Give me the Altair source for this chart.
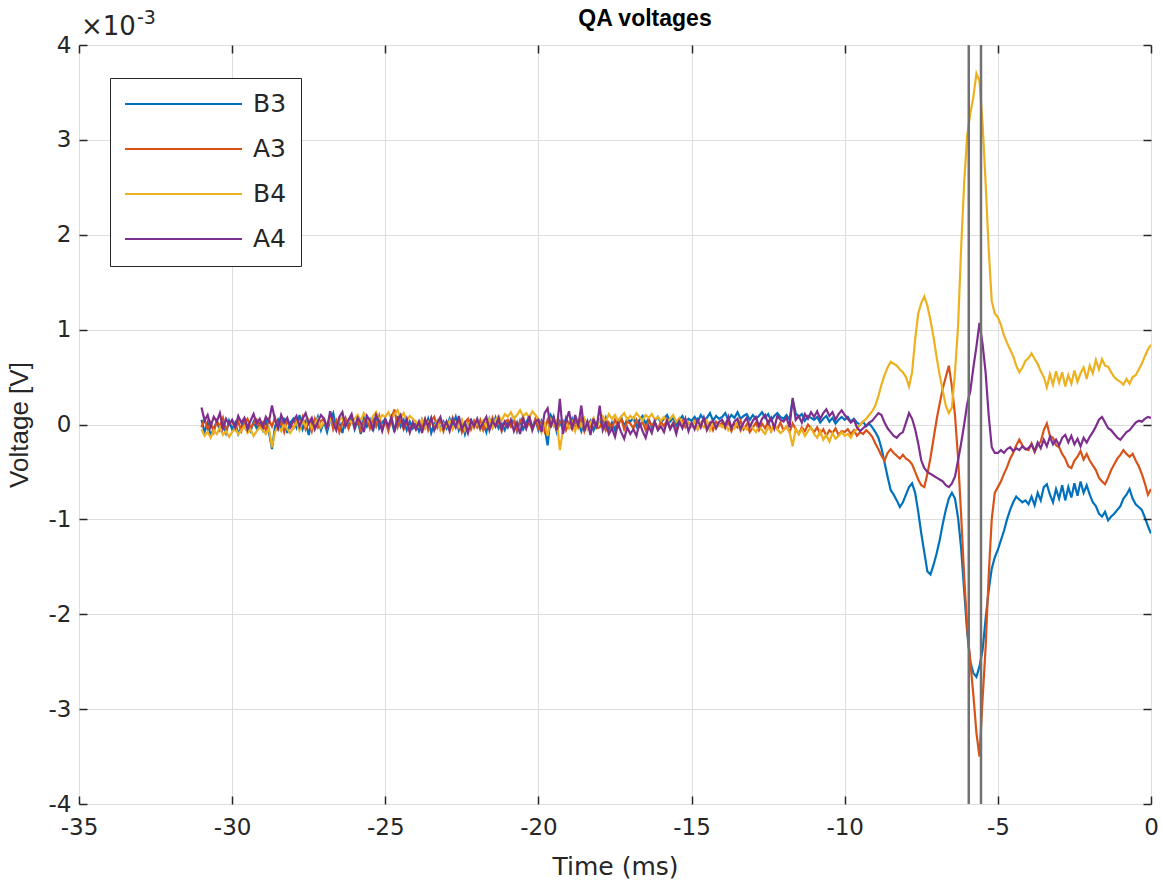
import altair as alt
import numpy as np
import pandas as pd

# Sample times (ms), 0.1 ms spacing from -31 ms to 0 ms
t_ms = np.round(np.arange(-310, 1) * 0.1, 1)

series_names = ["B3", "A3", "B4", "A4"]
series_colors = ["#0072BD", "#D95319", "#EDB120", "#7E2F8E"]

# Voltages in units of 1e-3 V, one row per millisecond
b3 = [
    0.05, -0.08, 0.02, -0.12, -0.04, 0.03, -0.06, 0.01, -0.09, 0.04,
    -0.05, 0.02, -0.10, -0.03, 0.06, -0.02, -0.07, 0.03, -0.04, 0.01,
    -0.06, 0.04, -0.08, -0.26, -0.02, 0.05, -0.04, 0.07, -0.09, 0.02,
    0.06, -0.03, 0.10, -0.05, 0.03, -0.11, 0.04, -0.02, 0.08, -0.06,
    0.03, -0.08, 0.05, 0.12, -0.04, 0.02, -0.09, 0.06, -0.03, 0.09,
    -0.05, 0.04, -0.10, 0.07, -0.02, 0.05, -0.07, 0.10, -0.04, 0.02,
    0.06, -0.03, 0.04, -0.08, 0.09, -0.02, 0.05, -0.06, 0.03, -0.04,
    0.02, -0.07, 0.05, -0.03, 0.06, -0.09, 0.01, 0.04, -0.05, 0.03,
    -0.04, 0.06, -0.02, 0.08, -0.06, 0.03, -0.10, 0.02, 0.05, -0.03,
    0.04, -0.05, 0.02, -0.08, 0.06, -0.03, 0.07, -0.04, 0.01, -0.06,
    0.03, -0.02, 0.06, -0.07, 0.04, -0.05, 0.02, 0.08, -0.03, 0.05,
    -0.06, 0.04, -0.03, -0.22, 0.10, 0.05, -0.08, 0.03, -0.05, 0.07,
    -0.02, 0.06, -0.04, 0.03, -0.07, 0.05, -0.01, 0.04, -0.06, 0.02,
    0.05, -0.03, 0.07, -0.05, 0.02, -0.06, 0.04, 0.08, -0.02, 0.06,
    0.03, 0.07, -0.02, 0.05, 0.09, 0.01, 0.06, -0.03, 0.04, 0.08,
    0.02, 0.06, 0.10, 0.03, 0.07, -0.01, 0.05, 0.09, 0.02, 0.06,
    0.04, 0.08, 0.03, 0.10, 0.05, 0.07, 0.12, 0.04, 0.09, 0.06,
    0.08, 0.12, 0.05, 0.10, 0.07, 0.13, 0.06, 0.09, 0.11, 0.05,
    0.10, 0.06, 0.09, 0.13, 0.07, 0.11, 0.04, 0.09, 0.12, 0.08,
    0.06, 0.10, 0.05, 0.26, 0.12, 0.08, 0.11, 0.04, 0.09, 0.07,
    0.05, 0.08, 0.02, 0.06, 0.09, 0.03, 0.07, 0.01, 0.05, 0.08,
    0.05, 0.08, 0.03, 0.06, 0.02, 0.00, 0.03, -0.02, 0.01, -0.03,
    -0.08, -0.14, -0.25, -0.40, -0.55, -0.69, -0.74, -0.80, -0.87, -0.82,
    -0.74, -0.66, -0.62, -0.72, -0.92, -1.15, -1.35, -1.55, -1.58, -1.48,
    -1.36, -1.22, -1.05, -0.90, -0.78, -0.72, -0.78, -0.98, -1.30, -1.75,
    -2.20, -2.50, -2.62, -2.66, -2.55, -2.38, -2.05, -1.75, -1.52, -1.40,
    -1.32, -1.22, -1.12, -1.00, -0.90, -0.82, -0.76, -0.79, -0.82, -0.80,
    -0.84, -0.76, -0.85, -0.72, -0.80, -0.66, -0.63, -0.74, -0.82, -0.68,
    -0.78, -0.64, -0.80, -0.66, -0.77, -0.62, -0.75, -0.60, -0.72, -0.64,
    -0.74, -0.82, -0.86, -0.94, -0.97, -0.92, -1.01, -0.97, -0.94, -0.90,
    -0.86, -0.78, -0.74, -0.68, -0.78, -0.84, -0.87, -0.90, -0.98, -1.07,
    -1.15,
]

a3 = [
    -0.03, 0.06, -0.05, 0.02, -0.08, 0.04, -0.02, 0.07, -0.06, 0.01,
    0.04, -0.05, 0.03, -0.07, 0.02, 0.06, -0.04, 0.01, 0.05, -0.03,
    0.02, -0.06, 0.05, -0.02, 0.07, -0.04, 0.03, -0.08, 0.04, -0.01,
    -0.04, 0.05, -0.02, 0.08, -0.05, 0.03, -0.07, 0.06, -0.03, 0.04,
    0.06, -0.03, 0.10, -0.05, 0.04, -0.08, 0.02, 0.07, -0.04, 0.05,
    -0.02, 0.05, -0.06, 0.03, 0.08, -0.04, 0.06, -0.02, 0.09, -0.05,
    0.04, -0.07, 0.06, 0.16, -0.03, 0.05, -0.05, 0.03, -0.08, 0.02,
    -0.05, 0.03, -0.02, 0.06, -0.06, 0.04, 0.08, -0.03, 0.05, -0.07,
    0.03, -0.04, 0.07, -0.02, 0.05, -0.08, 0.02, 0.06, -0.05, 0.04,
    -0.03, 0.05, -0.06, 0.02, -0.04, 0.07, -0.02, 0.04, -0.07, 0.03,
    0.05, -0.02, 0.04, -0.06, 0.03, 0.08, -0.04, 0.02, -0.05, 0.06,
    -0.04, 0.03, -0.07, 0.05, -0.02, 0.06, -0.05, 0.02, 0.04, -0.06,
    0.02, -0.05, 0.04, -0.03, 0.06, -0.07, 0.03, -0.02, 0.05, -0.04,
    -0.03, 0.04, -0.06, 0.02, -0.04, 0.05, -0.02, 0.07, -0.05, 0.03,
    0.01, -0.04, 0.05, -0.02, 0.03, -0.06, 0.04, -0.01, 0.02, -0.05,
    0.03, -0.02, 0.05, -0.04, 0.02, -0.06, 0.01, 0.04, -0.03, 0.02,
    -0.02, 0.04, -0.05, 0.01, 0.06, -0.03, 0.02, -0.06, 0.03, -0.01,
    0.02, -0.04, 0.03, -0.07, 0.01, -0.03, 0.04, -0.05, 0.00, -0.08,
    -0.03, 0.02, -0.06, 0.01, -0.04, 0.03, -0.07, -0.01, -0.05, 0.02,
    -0.06, -0.02, -0.08, 0.01, -0.05, -0.10, -0.03, -0.07, 0.00, -0.04,
    -0.08, -0.03, -0.10, -0.05, -0.12, -0.06, -0.09, -0.04, -0.11, -0.07,
    -0.08, -0.05, -0.10, -0.06, -0.12, -0.08, -0.10, -0.06, -0.09, -0.13,
    -0.20, -0.26, -0.33, -0.38, -0.30, -0.26, -0.30, -0.33, -0.36, -0.32,
    -0.36, -0.38, -0.42, -0.50, -0.58, -0.64, -0.66, -0.52, -0.35, -0.15,
    0.05, 0.22, 0.38, 0.50, 0.62, 0.40, 0.10, -0.35, -0.95, -1.60,
    -2.15, -2.50, -2.85, -3.25, -3.50, -2.90, -2.35, -1.60, -1.00, -0.72,
    -0.66, -0.60, -0.52, -0.45, -0.36, -0.30, -0.22, -0.16, -0.22, -0.26,
    -0.27, -0.20, -0.29, -0.22, -0.18, -0.06, 0.01, -0.12, -0.14, -0.22,
    -0.24, -0.31, -0.36, -0.44, -0.46, -0.38, -0.34, -0.28, -0.37, -0.31,
    -0.38, -0.43, -0.48, -0.56, -0.60, -0.63, -0.56, -0.48, -0.42, -0.36,
    -0.32, -0.27, -0.31, -0.34, -0.31, -0.38, -0.44, -0.52, -0.62, -0.74,
    -0.68,
]

b4 = [
    -0.05, -0.12, -0.08, -0.14, -0.06, -0.10, -0.03, -0.11, -0.07, -0.13,
    -0.08, -0.04, -0.10, -0.06, -0.02, -0.09, -0.05, -0.12, -0.07, -0.03,
    -0.06, -0.10, -0.04, -0.24, -0.08, -0.02, -0.07, 0.01, -0.05, -0.09,
    -0.03, 0.02, -0.06, 0.04, -0.02, 0.05, -0.04, 0.01, 0.06, -0.03,
    0.03, -0.02, 0.06, 0.01, -0.05, 0.04, 0.08, -0.01, 0.05, 0.02,
    0.06, 0.10, 0.04, 0.12, 0.07, 0.02, 0.09, 0.13, 0.05, 0.10,
    0.08, 0.13, 0.06, 0.11, 0.15, 0.07, 0.12, 0.04, 0.09, 0.06,
    0.03, -0.02, 0.05, -0.04, 0.02, 0.06, -0.03, 0.04, -0.06, 0.01,
    -0.02, 0.04, -0.05, 0.02, -0.03, 0.05, -0.06, 0.01, 0.03, -0.04,
    0.02, -0.05, 0.04, -0.02, 0.06, -0.03, 0.05, 0.09, 0.04, 0.11,
    0.08, 0.13, 0.06, 0.10, 0.15, 0.09, 0.12, 0.07, 0.14, 0.10,
    0.06, -0.08, 0.03, -0.12, 0.05, -0.02, 0.04, -0.27, -0.06, 0.02,
    -0.04, 0.03, -0.07, 0.05, -0.02, 0.06, -0.05, 0.02, 0.07, -0.03,
    0.05, 0.09, 0.03, 0.11, 0.06, 0.10, 0.04, 0.08, 0.12, 0.05,
    0.09, 0.06, 0.12, 0.08, 0.04, 0.10, 0.07, 0.11, 0.05, 0.08,
    0.04, 0.08, 0.02, 0.06, 0.10, 0.03, 0.07, 0.01, 0.05, 0.02,
    -0.02, 0.03, -0.05, 0.01, -0.03, 0.04, -0.06, 0.02, -0.04, 0.00,
    -0.03, 0.02, -0.06, -0.01, -0.04, 0.03, -0.07, -0.02, -0.05, 0.01,
    -0.04, -0.08, -0.02, -0.06, -0.10, -0.03, -0.07, -0.01, -0.05, -0.09,
    -0.06, -0.02, -0.08, -0.23, -0.04, -0.10, -0.05, -0.12, -0.07, -0.03,
    -0.10, -0.14, -0.07, -0.16, -0.11, -0.18, -0.09, -0.15, -0.12, -0.08,
    -0.12, -0.10, -0.14, -0.08, -0.05, 0.00, 0.03, 0.06, 0.10, 0.14,
    0.20, 0.30, 0.42, 0.52, 0.60, 0.66, 0.64, 0.62, 0.58, 0.55,
    0.50, 0.40, 0.55, 0.90, 1.17, 1.28, 1.35, 1.25, 1.10, 0.92,
    0.71, 0.52, 0.36, 0.20, 0.12, 0.18, 0.55, 1.03, 1.85, 2.55,
    3.05, 3.28, 3.45, 3.70, 3.62, 3.18, 2.55, 1.85, 1.30, 1.17,
    1.13, 1.05, 0.94, 0.86, 0.79, 0.72, 0.62, 0.55, 0.60, 0.67,
    0.70, 0.75, 0.69, 0.64, 0.56, 0.50, 0.39, 0.53, 0.42, 0.56,
    0.44, 0.55, 0.40, 0.52, 0.43, 0.57, 0.45, 0.54, 0.60, 0.48,
    0.62, 0.54, 0.68, 0.58, 0.69, 0.62, 0.61, 0.55, 0.50, 0.47,
    0.45, 0.42, 0.48, 0.43, 0.50, 0.52, 0.58, 0.64, 0.72, 0.79,
    0.84,
]

a4 = [
    0.18, 0.04, 0.10, -0.02, 0.08, 0.03, 0.12, -0.04, 0.06, 0.00,
    0.05, -0.03, 0.09, 0.02, 0.07, -0.05, 0.04, 0.11, 0.01, 0.06,
    -0.02, 0.08, 0.03, 0.20, 0.05, -0.04, 0.10, 0.02, 0.07, -0.03,
    0.04, 0.09, -0.02, 0.06, 0.12, 0.01, 0.07, -0.05, 0.03, 0.10,
    0.06, -0.04, 0.14, 0.02, -0.06, 0.08, 0.13, -0.02, 0.05, 0.11,
    -0.03, 0.07, 0.02, -0.08, 0.09, 0.04, -0.05, 0.10, 0.03, -0.07,
    0.05, -0.02, 0.08, -0.06, 0.04, 0.10, -0.03, 0.06, -0.08, 0.02,
    -0.05, 0.03, -0.09, 0.05, -0.02, 0.07, -0.06, 0.02, 0.08, -0.04,
    0.03, -0.07, 0.05, -0.03, 0.09, -0.05, 0.02, -0.09, 0.04, -0.02,
    0.06, -0.04, 0.02, 0.08, -0.06, 0.04, -0.02, 0.07, -0.05, 0.03,
    -0.03, 0.05, -0.07, 0.02, -0.10, 0.06, -0.04, 0.09, -0.06, 0.03,
    0.05, -0.08, 0.12, 0.17, -0.03, 0.08, -0.06, 0.27, -0.10, 0.04,
    0.14, -0.05, 0.10, -0.02, 0.20, -0.07, 0.03, -0.11, 0.06, -0.04,
    0.20, -0.06, 0.02, -0.10, -0.04, -0.13, 0.01, -0.08, -0.15, -0.03,
    -0.10, -0.05, -0.12, 0.02, -0.07, -0.14, -0.02, -0.09, 0.03, -0.06,
    -0.02, -0.08, 0.04, -0.05, 0.01, -0.10, 0.03, -0.04, 0.06, -0.07,
    0.02, -0.05, 0.05, -0.03, 0.07, -0.06, 0.01, 0.04, -0.04, 0.03,
    0.05, -0.02, 0.08, -0.04, 0.03, 0.06, -0.05, 0.02, 0.07, -0.03,
    0.04, 0.08, -0.02, 0.06, 0.10, 0.01, 0.07, -0.04, 0.09, 0.05,
    0.03, 0.07, -0.03, 0.28, 0.05, 0.09, 0.02, 0.11, 0.06, 0.13,
    0.08, 0.14, 0.06, 0.12, 0.16, 0.09, 0.13, 0.05, 0.11, 0.15,
    0.10, 0.06, 0.02, 0.05, -0.03, -0.07, -0.04, -0.01, 0.02, 0.04,
    0.08, 0.12, 0.10, 0.02, -0.04, -0.08, -0.12, -0.14, -0.10, -0.08,
    0.02, 0.12, 0.06, -0.05, -0.20, -0.38, -0.46, -0.50, -0.52, -0.54,
    -0.56, -0.58, -0.60, -0.64, -0.66, -0.62, -0.55, -0.38, -0.20, 0.00,
    0.22, 0.35, 0.60, 0.82, 1.07, 0.85, 0.55, 0.10, -0.24, -0.30,
    -0.30, -0.27, -0.30, -0.26, -0.24, -0.28, -0.25, -0.27, -0.23, -0.26,
    -0.25, -0.21, -0.28, -0.19, -0.25, -0.16, -0.23, -0.13, -0.21, -0.16,
    -0.22, -0.14, -0.11, -0.19, -0.12, -0.21, -0.15, -0.23, -0.14, -0.19,
    -0.13, -0.08, -0.02, 0.05, 0.08, 0.02, -0.04, -0.06, -0.10, -0.14,
    -0.16, -0.12, -0.08, -0.06, -0.02, 0.02, 0.04, 0.03, 0.06, 0.08,
    0.07,
]

# Cursor positions (ms) drawn as vertical lines
marker_times = [-5.95, -5.55]

x_ticks = [-35, -30, -25, -20, -15, -10, -5, 0]
y_ticks = [-4, -3, -2, -1, 0, 1, 2, 3, 4]

PLOT_W, PLOT_H = 1072, 759
FONT = "DejaVu Sans"
FONT_V = "Liberation Sans"
INK = "#262626"

frames = []
for name, vals in zip(series_names, [b3, a3, b4, a4]):
    frames.append(pd.DataFrame({"time": t_ms, "voltage": vals, "series": name}))
df = pd.concat(frames, ignore_index=True)
markers = pd.DataFrame({"time": marker_times})
header = pd.DataFrame({"title": ["QA voltages"], "label": ["×10"], "power": ["-3"]})

x_scale = alt.Scale(domain=[-35, 0], nice=False, zero=False)
y_scale = alt.Scale(domain=[-4, 4], nice=False, zero=False)
label_expr = "'' + datum.value"

lines = alt.Chart(df).mark_line(strokeWidth=2.2, clip=True).encode(
    x=alt.X(
        "time:Q", scale=x_scale,
        axis=alt.Axis(
            values=x_ticks, title="Time (ms)", labelExpr=label_expr, labelFlush=False,
            grid=True, gridColor="#dedede", gridWidth=1, ticks=False, domain=False,
            labelFontSize=23, labelFont=FONT, labelColor=INK, labelPadding=12,
            titleFontSize=25, titleFont=FONT, titleColor=INK, titleFontWeight="normal",
            titlePadding=15,
        ),
    ),
    y=alt.Y(
        "voltage:Q", scale=y_scale,
        axis=alt.Axis(
            values=y_ticks, title="Voltage [V]", labelExpr=label_expr, labelFlush=False,
            grid=True, gridColor="#dedede", gridWidth=1, ticks=False, domain=False,
            labelFontSize=23, labelFont=FONT, labelColor=INK, labelPadding=8,
            titleFontSize=26, titleFont=FONT_V, titleColor=INK, titleFontWeight="normal",
            titlePadding=16,
        ),
    ),
    color=alt.Color(
        "series:N",
        scale=alt.Scale(domain=series_names, range=series_colors),
        legend=alt.Legend(
            title=None, orient="none", legendX=31, legendY=33,
            symbolType="stroke", symbolSize=13689, symbolStrokeWidth=2,
            clipHeight=24, rowPadding=20, padding=14, labelOffset=10,
            labelFontSize=25, labelFont=FONT, labelColor=INK,
            strokeColor=INK, fillColor="white", cornerRadius=0,
        ),
    ),
)

cursor_lines = alt.Chart(markers).mark_rule(color="#717171", strokeWidth=2.5).encode(
    x=alt.X("time:Q", scale=x_scale, axis=None),
)

# Inward-pointing ticks on all four sides of the box
tick_axis = dict(labels=False, domain=False, grid=False, ticks=True, tickSize=8,
                 tickColor=INK, tickWidth=1.5, title=None, offset=-8, zindex=1)

ticks_bl = alt.Chart(markers).mark_point(opacity=0).encode(
    x=alt.X("time:Q", scale=x_scale, axis=alt.Axis(values=x_ticks, orient="bottom", **tick_axis)),
    y=alt.Y("time:Q", scale=y_scale, axis=alt.Axis(values=y_ticks, orient="left", **tick_axis)),
)
ticks_tr = alt.Chart(markers).mark_point(opacity=0).encode(
    x=alt.X("time:Q", scale=x_scale, axis=alt.Axis(values=x_ticks, orient="top", **tick_axis)),
    y=alt.Y("time:Q", scale=y_scale, axis=alt.Axis(values=y_ticks, orient="right", **tick_axis)),
)

title_text = alt.Chart(header).mark_text(
    align="center", baseline="alphabetic", fontSize=23, fontWeight="bold",
    font="Liberation Sans", color="black"
).encode(text="title:N", x=alt.value(566), y=alt.value(-19))

times_ten = alt.Chart(header).mark_text(
    align="left", baseline="alphabetic", fontSize=26, font=FONT, color=INK
).encode(text="label:N", x=alt.value(2), y=alt.value(-10))

power = alt.Chart(header).mark_text(
    align="left", baseline="alphabetic", fontSize=19, font=FONT, color=INK
).encode(text="power:N", x=alt.value(58), y=alt.value(-21))

chart = (
    alt.layer(lines, cursor_lines, ticks_bl, ticks_tr, title_text, times_ten, power)
    .resolve_axis(x="independent", y="independent")
    .properties(
        width=PLOT_W, height=PLOT_H,
        autosize=alt.AutoSizeParams(type="none"),
        padding={"left": 79, "top": 45, "right": 11, "bottom": 90},
    )
    .configure_view(stroke=INK, strokeWidth=1.5)
    .configure(background="white")
)

chart.save("out.html", embed_options={"renderer": "svg", "actions": False})
